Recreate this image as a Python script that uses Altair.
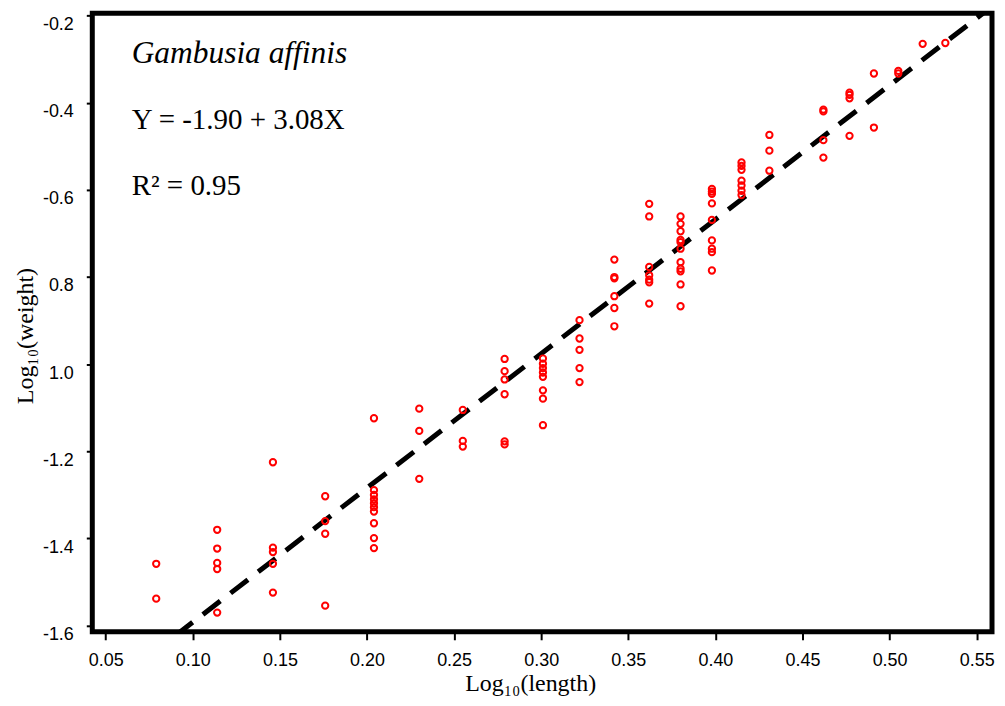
import altair as alt
import pandas as pd

# Log10(length) columns and the Log10(weight) values read at each
weights_by_length = {
    0.079: [-1.458, -1.538],
    0.114: [-1.380, -1.423, -1.456, -1.470, -1.570],
    0.146: [-1.225, -1.421, -1.431, -1.458, -1.524],
    0.176: [-1.303, -1.360, -1.389, -1.554],
    0.204: [-1.124, -1.289, -1.300, -1.310, -1.319, -1.328, -1.338, -1.365, -1.399, -1.422],
    0.230: [-1.102, -1.153, -1.263],
    0.255: [-1.105, -1.176, -1.189],
    0.279: [-0.988, -1.016, -1.035, -1.069, -1.177, -1.184],
    0.301: [-0.987, -0.999, -1.009, -1.019, -1.029, -1.060, -1.079, -1.140],
    0.322: [-0.899, -0.941, -0.967, -1.009, -1.041],
    0.342: [-0.760, -0.800, -0.803, -0.844, -0.871, -0.913],
    0.362: [-0.632, -0.661, -0.777, -0.796, -0.806, -0.812, -0.861],
    0.380: [-0.661, -0.678, -0.695, -0.715, -0.720, -0.735, -0.766, -0.781, -0.787, -0.817, -0.867],
    0.398: [-0.598, -0.604, -0.609, -0.631, -0.669, -0.716, -0.735, -0.743, -0.785],
    0.415: [-0.537, -0.545, -0.554, -0.579, -0.590, -0.602, -0.612],
    0.431: [-0.474, -0.510, -0.556],
    0.462: [-0.416, -0.420, -0.486, -0.526],
    0.477: [-0.377, -0.382, -0.390, -0.476],
    0.491: [-0.333, -0.457],
    0.505: [-0.327, -0.333],
    0.519: [-0.265],
    0.532: [-0.263],
}

# regression: Y = -1.90 + 3.08X
intercept = -1.90
slope = 3.08

x_domain = [0.0423, 0.5588]
y_domain = [-1.614, -0.195]

x_ticks = [0.05, 0.10, 0.15, 0.20, 0.25, 0.30, 0.35, 0.40, 0.45, 0.50, 0.55]
y_ticks = [-0.2, -0.4, -0.6, -0.8, -1.0, -1.2, -1.4, -1.6]
y_labels = ["-0.2", "-0.4", "-0.6", "0.8", "1.0", "-1.2", "-1.4", "-1.6"]

species = "Gambusia affinis"
equation = "Y = -1.90 + 3.08X"
r2_text = "R\u00b2 = 0.95"
x_title = "Log\u2081\u2080(length)"
y_title = "Log\u2081\u2080(weight)"

SERIF = "Liberation Serif, Times New Roman, Times, DejaVu Serif, serif"
SANS = "Liberation Sans, Arial, Helvetica, sans-serif"

pts = pd.DataFrame(
    [(x, y) for x, ys in weights_by_length.items() for y in ys], columns=["x", "y"]
)
line_df = pd.DataFrame(
    {"x": x_domain, "y": [intercept + slope * v for v in x_domain]}
)

label_expr = ""
for v, lab in zip(y_ticks, y_labels):
    label_expr += f"abs(datum.value - ({v})) < 1e-6 ? '{lab}' : "
label_expr += "''"

xscale = alt.Scale(domain=x_domain, nice=False, zero=False)
yscale = alt.Scale(domain=y_domain, nice=False, zero=False)

x_axis = alt.Axis(
    values=x_ticks, format=".2f", title=x_title, domain=False, grid=False,
    tickSize=8, tickWidth=2, tickColor="black",
    labelFont=SANS, labelFontSize=18, labelColor="black",
    labelPadding=12, labelFlush=False,
    titleFont=SERIF, titleFontSize=24, titleFontWeight="normal",
    titleColor="black", titleX=439, titleY=59, titleBaseline="alphabetic",
)
y_axis = alt.Axis(
    values=y_ticks, labelExpr=label_expr, title=y_title, domain=False, grid=False,
    tickSize=6, tickWidth=2, tickColor="black",
    labelFont=SANS, labelFontSize=18, labelColor="black",
    labelPadding=13, labelBaseline="top", labelFlush=False,
    titleFont=SERIF, titleFontSize=24, titleFontWeight="normal",
    titleColor="black", titleX=-60, titleY=323, titleAlign="center",
    titleBaseline="alphabetic", titleAngle=-90,
)

points = alt.Chart(pts).mark_point(
    shape="circle", filled=False, color="#ff0000", strokeWidth=2, size=40, opacity=1
).encode(
    x=alt.X("x:Q", scale=xscale, axis=x_axis),
    y=alt.Y("y:Q", scale=yscale, axis=y_axis),
)

reg = alt.Chart(line_df).mark_line(
    color="black", strokeWidth=5, strokeDash=[22, 13], clip=True
).encode(
    x=alt.X("x:Q", scale=xscale, axis=x_axis),
    y=alt.Y("y:Q", scale=yscale, axis=y_axis),
)

def note(txt, ypx, size, italic=False):
    kw = dict(align="left", baseline="alphabetic", font=SERIF,
              fontSize=size, color="black")
    if italic:
        kw["fontStyle"] = "italic"
    return alt.Chart(pd.DataFrame({"t": [txt]})).mark_text(**kw).encode(
        text="t:N", x=alt.value(39.5), y=alt.value(ypx)
    )

chart = alt.layer(
    reg, points,
    note(species, 49.5, 31.5, italic=True),
    note(equation, 115.5, 29),
    note(r2_text, 182.5, 29),
).properties(
    width=902, height=620,
    autosize=alt.AutoSizeParams(type="none"),
    padding={"left": 84.5, "top": 4.5, "right": 5, "bottom": 64},
    background="white",
).configure_view(stroke="black", strokeWidth=5)

chart.save("out.html", embed_options={"renderer": "svg", "actions": False})
